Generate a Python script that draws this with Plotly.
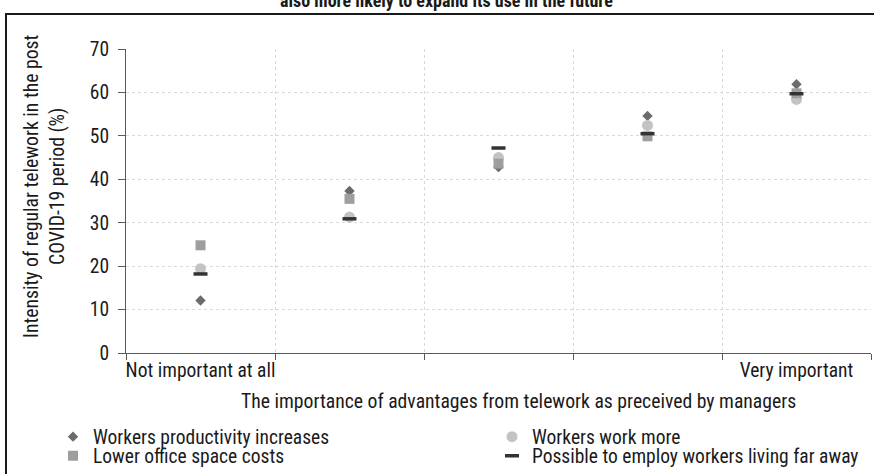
import plotly.graph_objects as go

# ---- data ----
levels = [1, 2, 3, 4, 5]
level_labels = ["Not important at all", "", "", "", "Very important"]
productivity = [12.1, 37.3, 42.8, 54.6, 61.9]
work_more = [19.4, 31.3, 45.0, 52.4, 58.4]
office_costs = [24.8, 35.5, 43.6, 49.9, 59.8]
far_away = [18.2, 30.9, 47.2, 50.5, 59.7]

W, H = 874, 474
L, R, T, B = 126, 3, 49, 121
PW, PH = W - L - R, H - T - B

def px(x):
    return (x - L) / PW

def py(y):
    return (H - B - y) / PH

FONT = "Liberation Sans Narrow, Arial Narrow, Roboto Condensed, Liberation Sans, Arial, sans-serif"
FS = 19.5
FT = 19.7

fig = go.Figure()
fig.add_trace(go.Scatter(x=levels, y=productivity, mode="markers",
                         name="Workers productivity increases", legend="legend",
                         marker=dict(symbol="diamond", size=8, color="#6b6b6b")))
fig.add_trace(go.Scatter(x=levels, y=work_more, mode="markers",
                         name="Workers work more", legend="legend2",
                         marker=dict(symbol="circle", size=11, color="#c3c3c3")))
fig.add_trace(go.Scatter(x=levels, y=office_costs, mode="markers",
                         name="Lower office space costs", legend="legend3",
                         marker=dict(symbol="square", size=10, color="#9e9e9e")))
fig.add_trace(go.Scatter(x=levels, y=far_away, mode="markers",
                         name="Possible to employ workers living far away", legend="legend4",
                         marker=dict(symbol="line-ew", size=10, color="#333333",
                                     line=dict(width=3.5, color="#333333"))))

def leg(xpix, ypix):
    return dict(orientation="h", x=px(xpix), y=py(ypix), xanchor="left", yanchor="middle",
                font=dict(size=FS), itemwidth=30, bgcolor="rgba(0,0,0,0)")

fig.update_layout(
    width=W, height=H,
    margin=dict(l=L, r=R, t=T, b=B, autoexpand=False),
    paper_bgcolor="white", plot_bgcolor="white",
    font=dict(family=FONT, size=FS, color="#1a1a1a"),
    showlegend=True,
    legend=leg(53, 437),
    legend2=leg(492, 437),
    legend3=leg(53, 456),
    legend4=leg(492, 456),
    xaxis=dict(type="category", categoryorder="array", categoryarray=levels,
               tickvals=levels, ticktext=level_labels, tickson="boundaries",
               range=[-0.5, 4.5], tickangle=0,
               showline=True, linecolor="#595959", linewidth=1,
               ticks="outside", ticklen=6, tickcolor="#595959",
               showgrid=True, gridcolor="#d9d9d9", griddash="dot", gridwidth=1,
               tickfont=dict(size=FS), zeroline=False),
    yaxis=dict(range=[0, 70], dtick=10, tick0=0,
               showline=True, linecolor="#595959", linewidth=1,
               ticks="outside", ticklen=7, tickcolor="#595959",
               showgrid=True, gridcolor="#d9d9d9", griddash="dot", gridwidth=1,
               tickfont=dict(size=FS), zeroline=False, ticklabelstandoff=5),
)

# axis titles
fig.add_annotation(text="Intensity of regular telework in the post<br>COVID-19 period (%)",
                   xref="paper", yref="paper", x=px(44), y=py(186),
                   textangle=-90, showarrow=False, font=dict(size=FT),
                   xanchor="center", yanchor="middle")
fig.add_annotation(text="The importance of advantages from telework as preceived by managers",
                   xref="paper", yref="paper", x=px(518), y=py(401),
                   showarrow=False, font=dict(size=FT),
                   xanchor="center", yanchor="middle")
# title, cut off at the top edge as in the reference
fig.add_annotation(text="<b>also more likely to expand its use in the future</b>",
                   xref="paper", yref="paper", x=px(446), y=py(1),
                   showarrow=False, font=dict(size=18),
                   xanchor="center", yanchor="middle")

# frame
fig.add_shape(type="rect", xref="paper", yref="paper",
              x0=px(6), x1=px(900), y0=py(500), y1=py(14),
              line=dict(color="#1a1a1a", width=2), layer="below")

fig.write_html("out.html", config={"displayModeBar": False},
               post_script="document.body.style.margin='0';document.body.style.overflow='hidden';")
